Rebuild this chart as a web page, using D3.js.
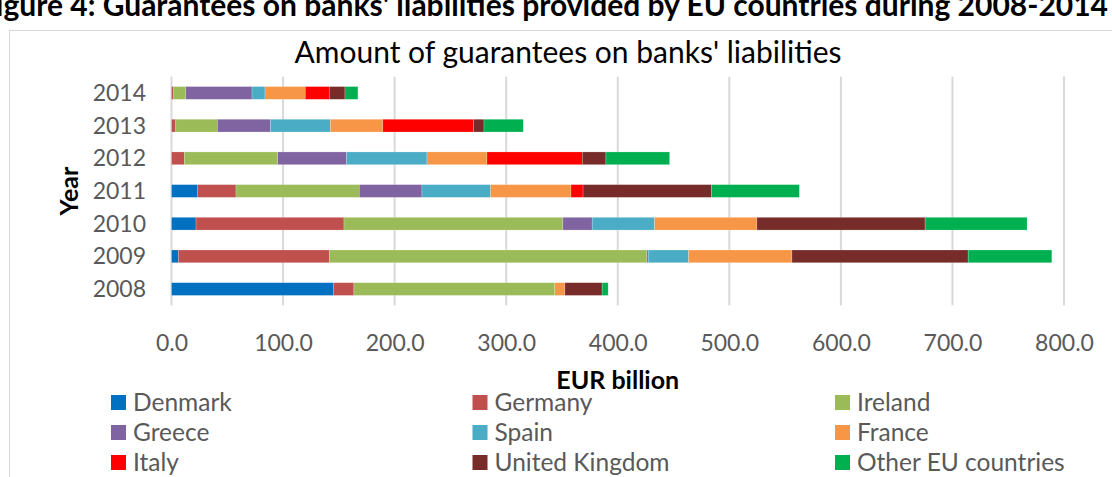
<!DOCTYPE html>
<html>
<head>
<meta charset="utf-8">
<script src="https://cdn.jsdelivr.net/npm/d3@7"></script>
<style>
  html, body { margin: 0; padding: 0; background: #fff; }
  svg { display: block; font-family: Lato, "Open Sans", sans-serif; }
</style>
</head>
<body>
<svg id="chart" width="1112" height="477"></svg>
<script>
// Years on the category axis (drawn top to bottom as 2014 ... 2008)
const years = ["2008", "2009", "2010", "2011", "2012", "2013", "2014"];

// Guarantees per country, EUR billion, in the order of `years`
const denmark   = [145.0,   6.1,  22.0,  23.1,   0.0,   0.0,   0.0];
const germany   = [ 18.5, 135.3, 132.6,  34.7,  11.5,   3.8,   2.0];
const ireland   = [180.1, 284.7, 196.2, 110.5,  83.7,  37.3,  10.8];
const greece    = [  0.0,   1.2,  26.3,  56.2,  61.8,  47.5,  59.4];
const spain     = [  0.0,  36.2,  55.9,  61.6,  72.0,  53.8,  11.6];
const france    = [  9.0,  92.6,  91.7,  72.0,  53.8,  47.0,  36.1];
const italy     = [  0.0,   0.0,   0.0,  10.8,  85.4,  81.5,  21.5];
const uk        = [ 33.4, 158.0, 150.8, 115.0,  21.2,   9.2,  14.1];
const otherEU   = [  5.4,  75.0,  91.4,  78.9,  57.1,  35.2,  11.6];

const seriesNames = ["Denmark", "Germany", "Ireland", "Greece", "Spain", "France",
                     "Italy", "United Kingdom", "Other EU countries"];
const seriesValues = [denmark, germany, ireland, greece, spain, france, italy, uk, otherEU];
const seriesColors = ["#0070C0", "#C0504D", "#9BBB59", "#8064A2", "#4BACC6", "#F79646",
                      "#FF0000", "#772C2A", "#00B050"];

const xTicks = [0, 100, 200, 300, 400, 500, 600, 700, 800];

const chartTitle = "Amount of guarantees on banks' liabilities";
const figureCaption = "Figure 4: Guarantees on banks' liabilities provided by EU countries during 2008-2014";
const xTitle = "EUR billion";
const yTitle = "Year";

// ---- table for the stack layout ----
const rows = years.map((y, i) => {
  const r = { year: y };
  seriesNames.forEach((n, j) => { r[n] = seriesValues[j][i]; });
  return r;
});
const stacked = d3.stack().keys(seriesNames)(rows);

const svg = d3.select("#chart");

// figure caption, running past the page edge at top and left
svg.append("text")
  .attr("x", 1108).attr("y", 16)
  .attr("text-anchor", "end")
  .attr("font-weight", "bold")
  .attr("font-size", 30)
  .attr("fill", "#000")
  .text(figureCaption);

// chart frame
svg.append("rect")
  .attr("x", 9.5).attr("y", 30.5)
  .attr("width", 1120).attr("height", 470)
  .attr("fill", "#fff")
  .attr("stroke", "#d9d9d9")
  .attr("stroke-width", 1);

const plot = { left: 171.5, right: 1064, top: 76.6, bottom: 305.4 };

const x = d3.scaleLinear().domain([0, 800]).range([plot.left, plot.right]);
const y = d3.scaleBand()
  .domain(years.slice().reverse())
  .range([plot.top, plot.bottom])
  .paddingInner(0.61)
  .paddingOuter(0.305);

// vertical gridlines
svg.append("g")
  .selectAll("line")
  .data(xTicks)
  .join("line")
  .attr("x1", d => x(d)).attr("x2", d => x(d))
  .attr("y1", plot.top).attr("y2", plot.bottom)
  .attr("stroke", "#d9d9d9")
  .attr("stroke-width", 2);

// stacked bars
svg.append("g")
  .selectAll("g")
  .data(stacked)
  .join("g")
  .attr("fill", (d, i) => seriesColors[i])
  .selectAll("rect")
  .data(d => d)
  .join("rect")
  .attr("x", d => x(d[0]))
  .attr("y", d => y(d.data.year))
  .attr("width", d => Math.max(0, x(d[1]) - x(d[0])))
  .attr("height", y.bandwidth())
  .attr("stroke", "rgba(255,255,255,0.35)")
  .attr("stroke-width", 0.6);

// x axis labels
const xAxis = d3.axisBottom(x).tickValues(xTicks).tickFormat(d3.format(".1f")).tickSize(0).tickPadding(0);
const gx = svg.append("g")
  .attr("transform", `translate(0, 351)`)
  .call(xAxis);
gx.select(".domain").remove();
gx.selectAll("text")
  .attr("dy", 0)
  .attr("font-family", "Lato, sans-serif")
  .attr("font-size", 23)
  .attr("fill", "#595959");

// y axis labels
const yAxis = d3.axisLeft(y).tickSize(0).tickPadding(0);
const gy = svg.append("g")
  .attr("transform", `translate(146, 0)`)
  .call(yAxis);
gy.select(".domain").remove();
gy.selectAll("text")
  .attr("dy", "0.35em")
  .attr("font-family", "Lato, sans-serif")
  .attr("font-size", 23)
  .attr("fill", "#595959");

// chart title
svg.append("text")
  .attr("x", 568).attr("y", 63)
  .attr("text-anchor", "middle")
  .attr("font-size", 30)
  .attr("fill", "#000")
  .text(chartTitle);

// axis titles
svg.append("text")
  .attr("x", (plot.left + plot.right) / 2).attr("y", 389)
  .attr("text-anchor", "middle")
  .attr("font-weight", "bold")
  .attr("font-size", 25)
  .attr("fill", "#000")
  .text(xTitle);

svg.append("text")
  .attr("transform", `translate(78, ${(plot.top + plot.bottom) / 2}) rotate(-90)`)
  .attr("text-anchor", "middle")
  .attr("font-weight", "bold")
  .attr("font-size", 25)
  .attr("fill", "#000")
  .text(yTitle);

// legend: three columns, three rows
const legendCols = [111, 472.5, 835];
const legendRows = [395, 425, 455];
const legend = svg.append("g")
  .selectAll("g")
  .data(seriesNames)
  .join("g")
  .attr("transform", (d, i) => `translate(${legendCols[i % 3]}, ${legendRows[Math.floor(i / 3)]})`);
legend.append("rect")
  .attr("width", 15).attr("height", 15)
  .attr("fill", (d, i) => seriesColors[i]);
legend.append("text")
  .attr("x", 22).attr("y", 15.5)
  .attr("font-size", 24.5)
  .attr("fill", "#595959")
  .text(d => d);
</script>
</body>
</html>
